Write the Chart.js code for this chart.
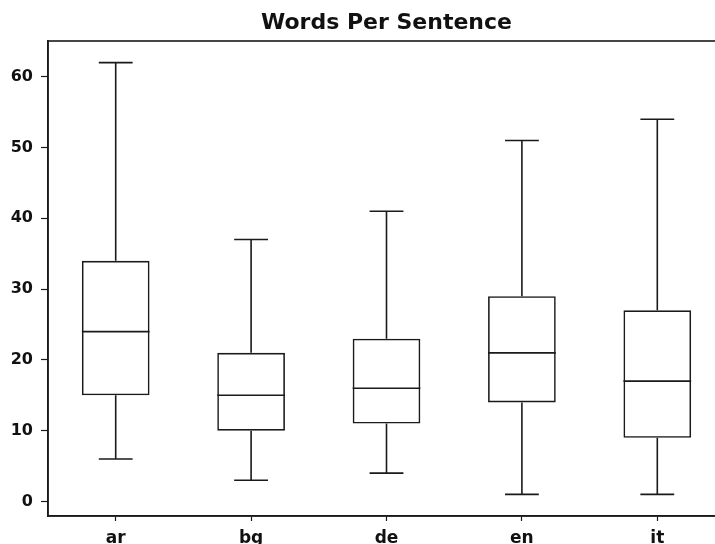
<!DOCTYPE html>
<html>
<head>
<meta charset="utf-8">
<script src="https://cdn.jsdelivr.net/npm/chart.js@4/dist/chart.umd.min.js"></script>
<style>
  html, body { margin: 0; padding: 0; background: #fff; overflow: hidden; }
  #wrap { width: 725px; height: 544px; }
</style>
</head>
<body>
<div id="wrap"><canvas id="boxChart"></canvas></div>
<script>
// Box plot values
const chartTitle = 'Words Per Sentence';
const languages = ['ar', 'bg', 'de', 'en', 'it'];
const whiskerLow = [6, 3, 4, 1, 1];
const quartile1 = [15, 10, 11, 14, 9];
const medians = [24, 15, 16, 21, 17];
const quartile3 = [34, 21, 23, 29, 27];
const whiskerHigh = [62, 37, 41, 51, 54];
const yTicks = [0, 10, 20, 30, 40, 50, 60];

const lineColor = '#1a1a1a';
const lineW = 1.6;

// Whiskers, caps, medians, the frame and a title centred over the plot area
const boxExtras = {
    id: 'boxExtras',
    afterDatasetsDraw(chart) {
        const ctx = chart.ctx;
        const x = chart.scales.x;
        const y = chart.scales.y;
        const meta = chart.getDatasetMeta(0);
        ctx.save();
        ctx.strokeStyle = lineColor;
        ctx.lineWidth = lineW;
        meta.data.forEach((bar, i) => {
            const cx = x.getPixelForValue(i);
            const half = bar.width / 2;
            const capHalf = bar.width / 4;
            const yLo = y.getPixelForValue(whiskerLow[i]);
            const yQ1 = y.getPixelForValue(quartile1[i]);
            const yMed = y.getPixelForValue(medians[i]);
            const yQ3 = y.getPixelForValue(quartile3[i]);
            const yHi = y.getPixelForValue(whiskerHigh[i]);
            ctx.beginPath();
            // whiskers
            ctx.moveTo(cx, yQ1); ctx.lineTo(cx, yLo);
            ctx.moveTo(cx, yQ3); ctx.lineTo(cx, yHi);
            // caps
            ctx.moveTo(cx - capHalf, yLo); ctx.lineTo(cx + capHalf, yLo);
            ctx.moveTo(cx - capHalf, yHi); ctx.lineTo(cx + capHalf, yHi);
            // median
            ctx.moveTo(cx - half, yMed); ctx.lineTo(cx + half, yMed);
            ctx.stroke();
        });
        const a = chart.chartArea;
        ctx.strokeRect(a.left, a.top, a.right - a.left, a.bottom - a.top);

        ctx.fillStyle = '#111';
        ctx.font = 'bold 22px "DejaVu Sans"';
        ctx.textAlign = 'center';
        ctx.textBaseline = 'alphabetic';
        ctx.fillText(chartTitle, (a.left + a.right) / 2, a.top - 12);
        ctx.restore();
    }
};

new Chart(document.getElementById('boxChart'), {
    type: 'bar',
    data: {
        labels: languages,
        datasets: [{
            data: languages.map((_, i) => [quartile1[i], quartile3[i]]),
            backgroundColor: 'rgba(0,0,0,0)',
            borderColor: lineColor,
            borderWidth: lineW,
            borderSkipped: false,
            categoryPercentage: 1,
            barPercentage: 0.5
        }]
    },
    options: {
        responsive: true,
        maintainAspectRatio: false,
        animation: false,
        layout: { padding: { top: 41 } },
        plugins: {
            legend: { display: false },
            tooltip: { enabled: false },
            title: { display: false }
        },
        scales: {
            x: {
                offset: true,
                grid: { display: true, offset: false, drawOnChartArea: false, tickLength: 5, tickColor: lineColor, tickWidth: 1.2 },
                border: { display: true, color: lineColor, width: lineW },
                ticks: {
                    color: '#111',
                    padding: 7,
                    font: { family: 'DejaVu Sans', size: 17, weight: 'bold' }
                },
                afterFit(scale) { scale.height = 28; }
            },
            y: {
                min: -2.05,
                max: 65.05,
                afterBuildTicks(scale) { scale.ticks = yTicks.map(v => ({ value: v })); },
                grid: { display: true, drawOnChartArea: false, tickLength: 7, tickColor: lineColor, tickWidth: 1.2 },
                border: { display: true, color: lineColor, width: lineW },
                ticks: {
                    color: '#111',
                    padding: 8,
                    font: { family: 'DejaVu Sans', size: 16, weight: 'bold' }
                },
                afterFit(scale) { scale.width = 48; }
            }
        }
    },
    plugins: [boxExtras]
});
</script>
</body>
</html>
